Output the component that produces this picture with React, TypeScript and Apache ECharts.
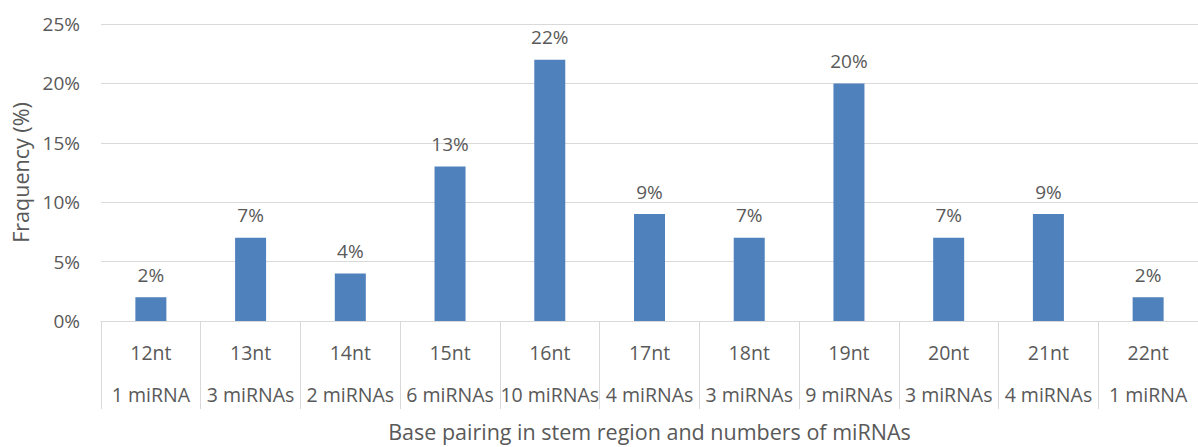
import React, { useEffect, useRef } from "react";
import * as echarts from "echarts";

const categories = ["12nt", "13nt", "14nt", "15nt", "16nt", "17nt", "18nt", "19nt", "20nt", "21nt", "22nt"];
const mirnaCounts = ["1 miRNA", "3 miRNAs", "2 miRNAs", "6 miRNAs", "10 miRNAs", "4 miRNAs", "3 miRNAs", "9 miRNAs", "3 miRNAs", "4 miRNAs", "1 miRNA"];
const frequency = [2, 7, 4, 13, 22, 9, 7, 20, 7, 9, 2];

const FONT = "'Open Sans', sans-serif";
const TEXT = "#595959";
const LINE = "#d9d9d9";

export default function App() {
  const ref = useRef<HTMLDivElement>(null);
  useEffect(() => {
    if (!ref.current) return;
    const chart = echarts.init(ref.current, null, { renderer: "svg" });
    chart.setOption({
      animation: false,
      backgroundColor: "#ffffff",
      textStyle: { fontFamily: FONT },
      grid: { left: 101, top: 24, width: 1107, height: 303, containLabel: false },
      xAxis: {
        type: "category",
        data: categories,
        axisLine: { show: true, lineStyle: { color: LINE, width: 1 } },
        axisTick: { show: true, interval: 0, length: 88, lineStyle: { color: LINE, width: 1 } },
        axisLabel: {
          interval: 0,
          margin: 10,
          formatter: (v: string, i: number) => `{a|${v}}\n{b|${mirnaCounts[i]}}`,
          rich: {
            a: { fontFamily: FONT, fontSize: 19.5, color: TEXT, lineHeight: 42 },
            b: { fontFamily: FONT, fontSize: 19.5, color: TEXT, lineHeight: 42 },
          },
        },
        name: "Base pairing in stem region and numbers of miRNAs",
        nameLocation: "middle",
        nameGap: 99,
        nameTextStyle: { fontFamily: FONT, fontSize: 21.5, color: TEXT },
      },
      yAxis: {
        type: "value",
        min: 0,
        max: 25,
        interval: 5,
        axisLine: { show: false },
        axisTick: { show: false },
        splitLine: { show: true, lineStyle: { color: LINE, width: 1 } },
        axisLabel: { formatter: "{value}%", color: TEXT, fontFamily: FONT, fontSize: 19, margin: 21 },
        name: "Fraquency (%)",
        nameLocation: "middle",
        nameRotate: 90,
        nameGap: 68,
        nameTextStyle: { fontFamily: FONT, fontSize: 21.5, color: TEXT },
      },
      series: [
        {
          type: "bar",
          data: frequency,
          barWidth: 31,
          itemStyle: { color: "#4F81BD" },
          label: {
            show: true,
            position: "top",
            distance: 13,
            formatter: "{c}%",
            color: TEXT,
            fontFamily: FONT,
            fontSize: 19,
          },
        },
      ],
    });
    return () => chart.dispose();
  }, []);
  return (
    <div
      ref={ref}
      style={{ position: "absolute", left: 0, top: 0, width: 1198, height: 447, overflow: "hidden" }}
    />
  );
}
